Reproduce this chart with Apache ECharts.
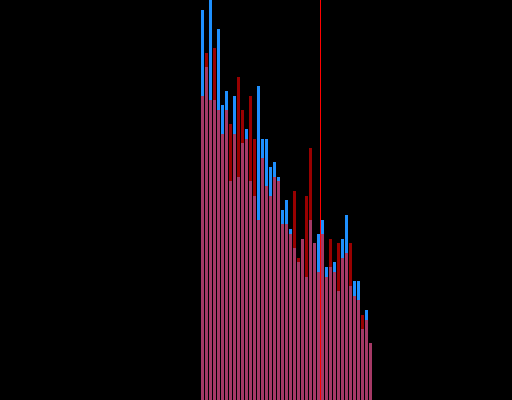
<!DOCTYPE html>
<html>
<head>
<meta charset="utf-8">
<script src="https://cdn.jsdelivr.net/npm/echarts@6/dist/echarts.min.js"></script>
<style>
html,body{margin:0;padding:0;background:#000;}
#c{width:512px;height:400px;}
</style>
</head>
<body>
<div id="c"></div>
<script>
// bin positions (bin index)
var bins = [0,1,2,3,4,5,6,7,8,9,10,11,12,13,14,15,16,17,18,19,20,21,22,23,24,25,26,27,28,29,30,31,32,33,34,35,36,37,38,39,40,41,42];
// series A (blue)
var seriesBlue = [390,333,400,300,371,295,309,219,304,223,257,271,219,204,314,261,261,233,238,223,190,200,171,152,138,161,123,180,157,166,180,133,133,138,109,161,185,114,119,119,71,90,57];
// series B (red, translucent)
var seriesRed = [304,347,300,352,290,266,290,276,266,323,290,261,304,261,180,242,214,204,223,219,176,176,166,209,142,161,204,252,157,128,166,123,161,128,157,142,147,157,104,100,85,80,57];
// threshold marker position
var threshold = 29.5;

function pairs(vals){ return bins.map(function(b,i){ return [b, vals[i]]; }); }

var chart = echarts.init(document.getElementById('c'), null, {renderer:'canvas'});
chart.setOption({
  backgroundColor: '#000000',
  animation: false,
  grid: {left: 0, right: 0, top: 0, bottom: 0},
  xAxis: {type: 'value', min: -50.625, max: 77.375, show: false, splitLine:{show:false}},
  yAxis: {type: 'value', min: 0, max: 400, show: false, splitLine:{show:false}},
  series: [
    {
      type: 'bar', name: 'A', data: pairs(seriesBlue), barWidth: 3, barGap: '-100%',
      itemStyle: {color: '#1e90ff'}, emphasis: {disabled: true}, silent: true
    },
    {
      type: 'bar', name: 'B', data: pairs(seriesRed), barWidth: 3, barGap: '-100%',
      itemStyle: {color: 'rgba(255,0,0,0.6)'}, emphasis: {disabled: true}, silent: true,
      markLine: {
        silent: true, symbol: 'none', animation: false,
        label: {show: false},
        lineStyle: {color: '#ff0000', width: 1, type: 'solid', opacity: 1},
        data: [{xAxis: threshold}]
      }
    }
  ]
});
</script>
</body>
</html>
